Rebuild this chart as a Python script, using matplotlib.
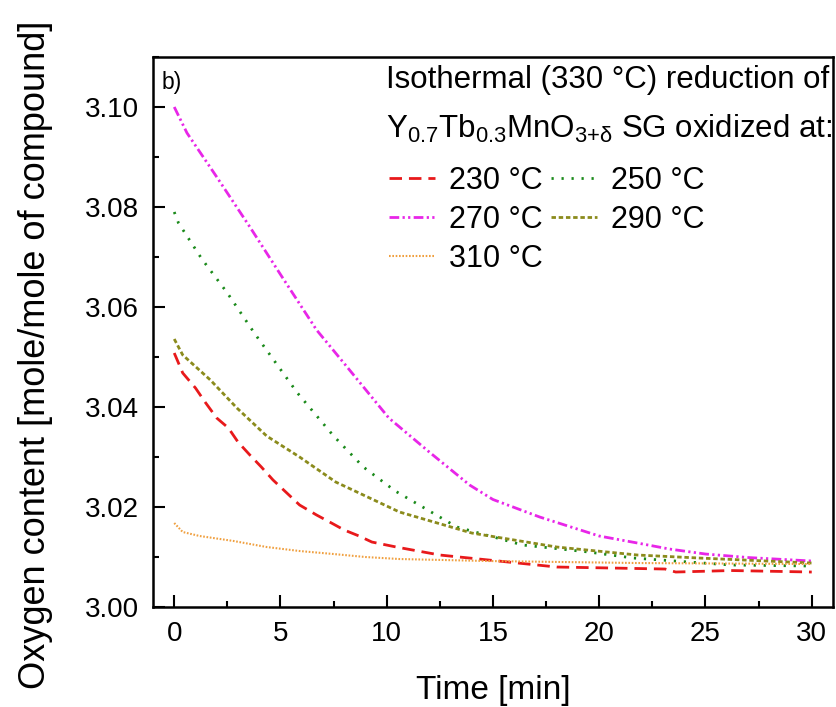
import matplotlib
matplotlib.use("Agg")
import matplotlib.pyplot as plt
from matplotlib.ticker import MultipleLocator

plt.rcParams["font.family"] = ["Liberation Sans", "DejaVu Sans"]
plt.rcParams["mathtext.fontset"] = "custom"
plt.rcParams["mathtext.rm"] = "Liberation Sans"
plt.rcParams["mathtext.it"] = "Liberation Sans:italic"

# values (time in min, oxygen content)
t_230 = [0, 0.4, 1.0, 1.45, 2.0, 2.55, 3.0, 3.56, 4.1, 4.65, 5.3, 5.9, 6.7, 7.4,
         8.0, 8.7, 9.3, 10.45, 12.5, 14.8, 18.0, 20.6, 23.1, 23.6, 26.2, 30.0]
o_230 = [3.0508, 3.0468, 3.0438, 3.041, 3.0378, 3.0358, 3.033, 3.0304, 3.028,
         3.0254, 3.0228, 3.0204, 3.0184, 3.0168, 3.0154, 3.0142, 3.013, 3.012,
         3.0104, 3.0094, 3.008, 3.0078, 3.0076, 3.007, 3.0073, 3.007]

t_250 = [0, 0.2, 1.3, 2.5, 3.8, 5.8, 7.5, 8.9, 10.4, 13.3, 16.4, 19.5, 21.6,
         26.2, 30.0]
o_250 = [3.079, 3.0768, 3.0696, 3.0628, 3.0546, 3.0428, 3.0342, 3.028, 3.0232,
         3.016, 3.0124, 3.011, 3.0098, 3.0084, 3.0082]

t_270 = [0, 0.6, 2.0, 3.56, 5.0, 6.7, 8.0, 10.1, 12.0, 13.9, 15.0, 17.2, 20.0,
         21.8, 23.3, 25.0, 27.0, 30.0]
o_270 = [3.100, 3.0948, 3.086, 3.076, 3.0665, 3.0554, 3.0487, 3.0378, 3.031,
         3.0244, 3.0215, 3.018, 3.0142, 3.0128, 3.0116, 3.0106, 3.0099, 3.0092]

t_290 = [0, 0.4, 1.7, 2.95, 4.35, 5.9, 7.6, 9.2, 10.6, 14.0, 18.0, 21.8, 24.7,
         30.0]
o_290 = [3.0536, 3.0504, 3.0454, 3.0398, 3.0342, 3.030, 3.025, 3.0218, 3.019,
         3.0148, 3.012, 3.0104, 3.0098, 3.0088]

t_310 = [0, 0.4, 1.2, 2.8, 4.35, 5.9, 7.5, 9.0, 10.6, 14.8, 21.8, 30.0]
o_310 = [3.0168, 3.015, 3.0142, 3.0132, 3.012, 3.0112, 3.0106, 3.010, 3.0096,
         3.0092, 3.0088, 3.0086]

labels = ["230 °C", "250 °C", "270 °C", "290 °C", "310 °C"]

fig = plt.figure(figsize=(8.36, 7.07), dpi=100)
ax = fig.add_axes([0.183, 0.1414, 0.8134, 0.778])

l230, = ax.plot(t_230, o_230, color="#e8191b", lw=2.0, dashes=(4.5, 2.5),
                label=labels[0])
l250, = ax.plot(t_250, o_250, color="#1a8a1a", lw=2.0, dashes=(0.8, 2.8),
                label=labels[1])
l270, = ax.plot(t_270, o_270, color="#e826e8", lw=2.0,
                dashes=(3.5, 1.2, 0.8, 1.2, 0.8, 1.2), label=labels[2])
l290, = ax.plot(t_290, o_290, color="#8b8b1c", lw=2.0, dashes=(1.6, 1.0),
                label=labels[3])
l310, = ax.plot(t_310, o_310, color="#f0a040", lw=1.5, dashes=(0.8, 0.8),
                label=labels[4])

ax.set_xlim(-1, 31)
ax.set_ylim(3.0, 3.11)
ax.xaxis.set_major_locator(MultipleLocator(5))
ax.xaxis.set_minor_locator(MultipleLocator(2.5))
ax.yaxis.set_major_locator(MultipleLocator(0.02))
ax.yaxis.set_minor_locator(MultipleLocator(0.01))
ax.yaxis.set_major_formatter(matplotlib.ticker.FormatStrFormatter("%.2f"))
ax.tick_params(which="both", direction="in", width=1.5, labelsize=20, pad=10,
               top=False, right=False)
ax.tick_params(which="major", length=8.5)
ax.tick_params(which="minor", length=4.5)
for s in ax.spines.values():
    s.set_linewidth(1.8)

ax.set_xlabel("Time [min]", fontsize=24, labelpad=20)
ax.set_ylabel("Oxygen content [mole/mole of compound]", fontsize=26)
ax.yaxis.set_label_coords(-0.147, 0.458)

ax.text(0.012, 0.975, "b)", transform=ax.transAxes, fontsize=16.5,
        ha="left", va="top")
ax.text(0.342, 0.9436, "Isothermal (330 °C) reduction of",
        transform=ax.transAxes, fontsize=22.5, ha="left", va="baseline")
ax.text(0.342, 0.8527,
        r"Y$_{\mathregular{0.7}}$Tb$_{\mathregular{0.3}}$"
        r"MnO$_{\mathregular{3{+}\delta}}$ SG oxidized at:",
        transform=ax.transAxes, fontsize=22.5, ha="left", va="baseline")

ax.legend(handles=[l230, l270, l310, l250, l290], ncol=2, frameon=False,
          fontsize=22, loc="upper left", bbox_to_anchor=(0.32, 0.836),
          handlelength=1.5, handletextpad=0.45, columnspacing=0.3,
          labelspacing=0.3, borderpad=0.1)

fig.savefig("out.png", dpi=100)
